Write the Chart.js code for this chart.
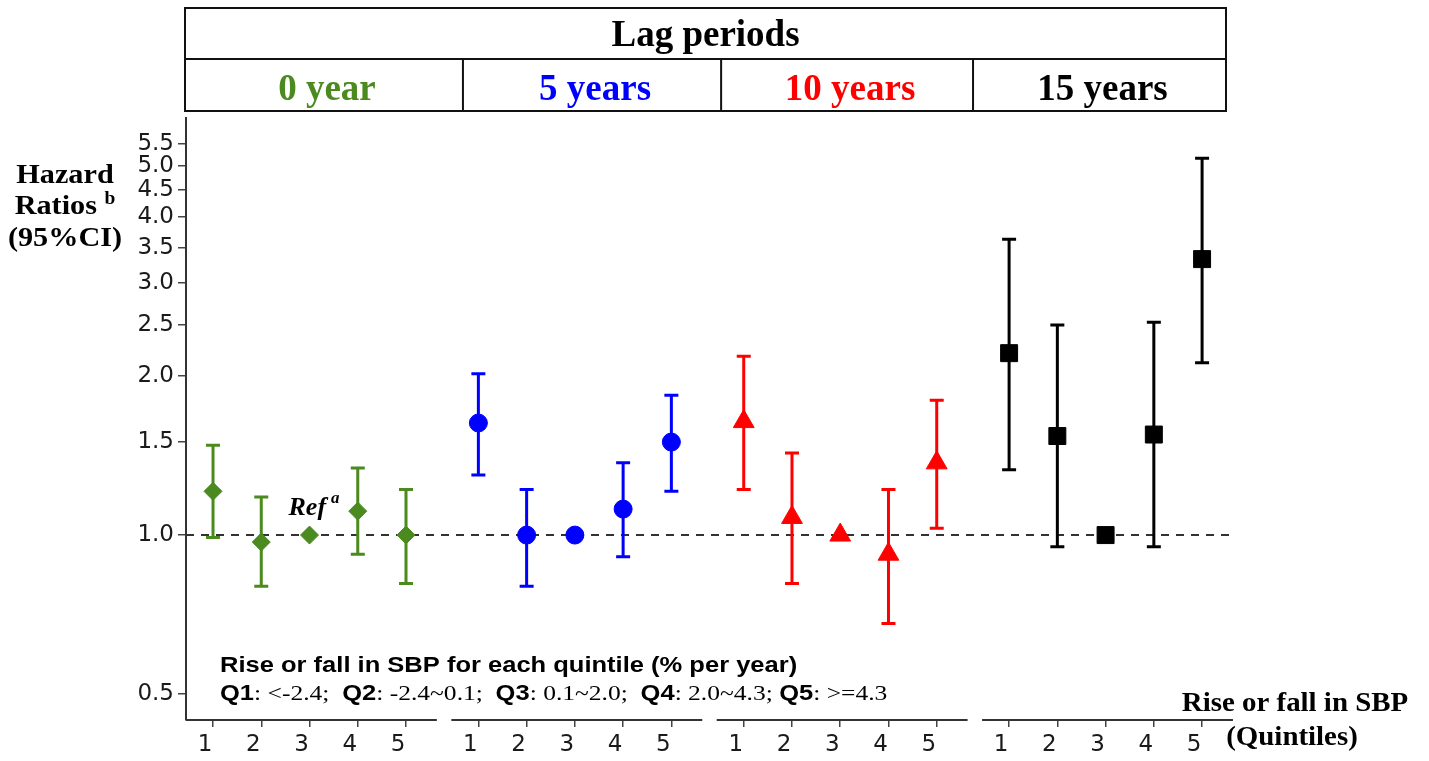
<!DOCTYPE html>
<html lang="en">
<head>
<meta charset="UTF-8">
<title>Hazard ratios by lag period</title>
<script src="https://cdn.jsdelivr.net/npm/chart.js"></script>
<style>
  html, body { margin: 0; padding: 0; background: #fff; }
  #wrap { width: 1429px; height: 761px; position: relative; }
</style>
</head>
<body>
<div id="wrap"><canvas id="myChart"></canvas></div>
<script>
// ---- data ----
const lagPeriods = ['0 year', '5 years', '10 years', '15 years'];
const quintiles = ['1', '2', '3', '4', '5'];
const yTicks = [0.5, 1.0, 1.5, 2.0, 2.5, 3.0, 3.5, 4.0, 4.5, 5.0, 5.5];

// hazard ratio + 95% CI for each quintile (Q3 = reference, no CI)
const hr0  = [1.21, 0.97, 1.00, 1.11, 1.00];
const lo0  = [0.99, 0.80, null, 0.92, 0.81];
const hi0  = [1.48, 1.18, null, 1.34, 1.22];

const hr5  = [1.63, 1.00, 1.00, 1.12, 1.50];
const lo5  = [1.30, 0.80, null, 0.91, 1.21];
const hi5  = [2.02, 1.22, null, 1.37, 1.84];

const hr10 = [1.64, 1.08, 1.00, 0.92, 1.37];
const lo10 = [1.22, 0.81, null, 0.68, 1.03];
const hi10 = [2.18, 1.43, null, 1.22, 1.80];

const hr15 = [2.21, 1.54, 1.00, 1.55, 3.33];
const lo15 = [1.33, 0.95, null, 0.95, 2.12];
const hi15 = [3.63, 2.50, null, 2.53, 5.17];

const legendTitle = 'Rise or fall in SBP for each quintile (% per year)';
const legendParts = [
  ['Q1', true], [': <-2.4;  ', false],
  ['Q2', true], [': -2.4~0.1;  ', false],
  ['Q3', true], [': 0.1~2.0;  ', false],
  ['Q4', true], [': 2.0~4.3; ', false],
  ['Q5', true], [': >=4.3', false]
];

// ---- styles ----
const colors = ['#4a8a1e', '#0000ff', '#ff0000', '#000000'];
const shapes = ['rectRot', 'circle', 'triangle', 'rect'];
const radii = [9, 9, 12, 12];
const groupGap = 5.5; // x units from one lag group to the next

const SERIF = '"Liberation Serif", "Times New Roman", serif';
const SANS = '"Liberation Sans", Arial, sans-serif';
const TICKS = '"DejaVu Sans", Arial, sans-serif';

function groupPoints(hr, lo, hi, g) {
  return hr.map((v, i) => ({ x: g * groupGap + i + 1, y: v, lo: lo[i], hi: hi[i] }));
}

const series = [[hr0, lo0, hi0], [hr5, lo5, hi5], [hr10, lo10, hi10], [hr15, lo15, hi15]];

const datasets = series.map((s, g) => ({
  label: lagPeriods[g],
  data: groupPoints(s[0], s[1], s[2], g),
  pointStyle: shapes[g],
  pointRadius: radii[g],
  backgroundColor: colors[g],
  borderColor: colors[g],
  borderWidth: 1,
  showLine: false
}));

const xTickValues = [];
lagPeriods.forEach((p, g) => quintiles.forEach((q, i) => xTickValues.push(g * groupGap + i + 1)));

// text drawn a little wider than the font, like the original figure
function wideText(ctx, text, x, y, sx) {
  ctx.save();
  ctx.translate(x, y);
  ctx.scale(sx, 1);
  ctx.fillText(text, 0, 0);
  ctx.restore();
  return ctx.measureText(text).width * sx;
}

// error bars, dashed reference line, header table, titles
const decorations = {
  id: 'decorations',
  beforeDatasetsDraw(chart) {
    const { ctx, chartArea: a, scales: { x, y } } = chart;
    ctx.save();
    const y1 = y.getPixelForValue(1);
    ctx.strokeStyle = '#333';
    ctx.lineWidth = 2;
    ctx.setLineDash([8, 7]);
    ctx.beginPath();
    ctx.moveTo(a.left, y1);
    ctx.lineTo(a.right, y1);
    ctx.stroke();
    ctx.setLineDash([]);

    chart.data.datasets.forEach(ds => {
      ds.data.forEach(p => {
        if (p.lo == null) return;
        const px = x.getPixelForValue(p.x);
        const top = y.getPixelForValue(p.hi);
        const bot = y.getPixelForValue(p.lo);
        ctx.strokeStyle = ds.borderColor;
        ctx.lineWidth = 3;
        ctx.beginPath();
        ctx.moveTo(px, top); ctx.lineTo(px, bot);
        ctx.moveTo(px - 7, top); ctx.lineTo(px + 7, top);
        ctx.moveTo(px - 7, bot); ctx.lineTo(px + 7, bot);
        ctx.stroke();
      });
    });
    ctx.restore();
  },
  afterDraw(chart) {
    const { ctx, chartArea: a, scales: { x, y } } = chart;
    ctx.save();

    // broken x axis, one piece per lag group
    ctx.strokeStyle = '#333';
    ctx.lineWidth = 2;
    lagPeriods.forEach((p, g) => {
      const x0 = g === 0 ? a.left : x.getPixelForValue(g * groupGap + 0.44);
      const x1 = x.getPixelForValue(g * groupGap + 5.64);
      ctx.beginPath();
      ctx.moveTo(x0, a.bottom);
      ctx.lineTo(x1, a.bottom);
      ctx.stroke();
    });

    // header table
    const hl = a.left - 1, hr = a.right - 6, ht = 8, hm = 59, hb = 111;
    const cuts = [0, 0.267, 0.515, 0.757, 1];
    ctx.strokeStyle = '#111';
    ctx.lineWidth = 2;
    ctx.strokeRect(hl, ht, hr - hl, hb - ht);
    ctx.beginPath();
    ctx.moveTo(hl, hm); ctx.lineTo(hr, hm);
    for (let i = 1; i < 4; i++) {
      const cx = hl + cuts[i] * (hr - hl);
      ctx.moveTo(cx, hm); ctx.lineTo(cx, hb);
    }
    ctx.stroke();

    ctx.textAlign = 'center';
    ctx.textBaseline = 'alphabetic';
    ctx.font = 'bold 37px ' + SERIF;
    ctx.fillStyle = '#000';
    ctx.fillText('Lag periods', (hl + hr) / 2, 46);
    lagPeriods.forEach((p, g) => {
      const c0 = hl + cuts[g] * (hr - hl), c1 = hl + cuts[g + 1] * (hr - hl);
      ctx.fillStyle = colors[g];
      ctx.fillText(p, (c0 + c1) / 2 + 3, 100);
    });

    // y axis title
    ctx.fillStyle = '#000';
    const tx = a.left - 121;
    ctx.font = 'bold 28px ' + SERIF;
    wideText(ctx, 'Hazard', tx, 183, 1.08);
    const rw = ctx.measureText('Ratios ').width * 1.08;
    ctx.font = 'bold 18px ' + SERIF;
    const bw = ctx.measureText('b').width * 1.08;
    ctx.textAlign = 'left';
    ctx.font = 'bold 28px ' + SERIF;
    wideText(ctx, 'Ratios ', tx - (rw + bw) / 2, 214, 1.08);
    ctx.font = 'bold 18px ' + SERIF;
    wideText(ctx, 'b', tx - (rw + bw) / 2 + rw, 204, 1.08);
    ctx.textAlign = 'center';
    ctx.font = 'bold 28px ' + SERIF;
    wideText(ctx, '(95%CI)', tx, 246, 1.08);

    // Ref label at the reference quintile
    const rx = x.getPixelForValue(3), ry = y.getPixelForValue(1);
    ctx.textAlign = 'left';
    ctx.font = 'italic bold 26px ' + SERIF;
    ctx.fillText('Ref', rx - 21, ry - 20);
    const refW = ctx.measureText('Ref').width;
    ctx.font = 'italic bold 17px ' + SERIF;
    ctx.fillText('a', rx - 21 + refW + 5, ry - 32);

    // quintile legend
    const lx = a.left + 34;
    ctx.font = 'bold 22px ' + SANS;
    wideText(ctx, legendTitle, lx, 672, 1.16);
    let cx = lx;
    legendParts.forEach(([t, bold]) => {
      ctx.font = bold ? 'bold 22px ' + SANS : '22px ' + SERIF;
      cx += wideText(ctx, t, cx, 700, 1.16);
    });

    // x axis title
    ctx.textAlign = 'center';
    ctx.font = 'bold 27px ' + SERIF;
    wideText(ctx, 'Rise or fall in SBP', a.right + 63, 711, 1.07);
    wideText(ctx, '(Quintiles)', a.right + 60, 745, 1.07);

    ctx.restore();
  }
};

const config = {
  type: 'scatter',
  data: { datasets },
  options: {
    responsive: true,
    maintainAspectRatio: false,
    animation: false,
    layout: { padding: { top: 118, right: 197, left: 0, bottom: 0 } },
    plugins: { legend: { display: false }, tooltip: { enabled: false } },
    scales: {
      x: {
        type: 'linear',
        min: 0.44,
        max: 22.12,
        afterFit: s => { s.height = 41; },
        afterBuildTicks: s => { s.ticks = xTickValues.map(v => ({ value: v })); },
        border: { display: false },
        grid: { drawOnChartArea: false, drawTicks: true, tickLength: 7, color: '#444', lineWidth: 1.5 },
        ticks: {
          autoSkip: false,
          maxRotation: 0,
          labelOffset: -8,
          padding: 4,
          color: '#1a1a1a',
          font: { family: TICKS, size: 23 },
          callback: v => quintiles[Math.round((v - 1) % groupGap)]
        }
      },
      y: {
        type: 'logarithmic',
        min: 0.4466,
        max: 6.16,
        afterFit: s => { s.width = 186; },
        afterBuildTicks: s => { s.ticks = yTicks.map(v => ({ value: v })); },
        border: { display: true, color: '#333', width: 2 },
        grid: { drawOnChartArea: false, drawTicks: true, tickLength: 8, color: '#444', lineWidth: 1.5 },
        ticks: {
          padding: 4,
          color: '#1a1a1a',
          font: { family: TICKS, size: 23 },
          callback: v => Number(v).toFixed(1)
        }
      }
    }
  },
  plugins: [decorations]
};

const myChart = new Chart(document.getElementById('myChart'), config);
</script>
</body>
</html>
